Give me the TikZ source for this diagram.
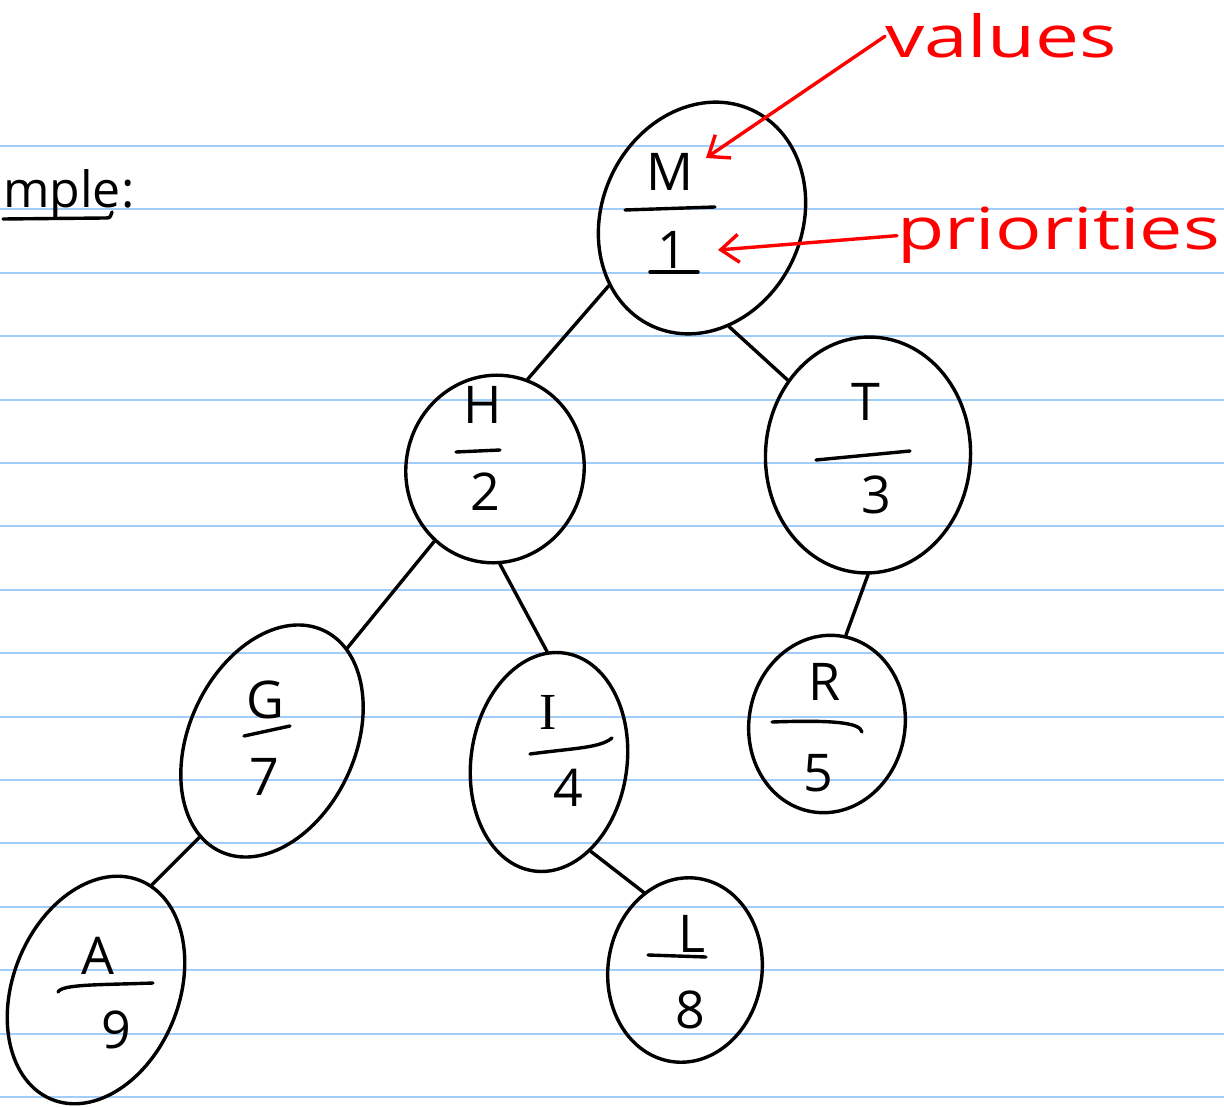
\documentclass[tikz,border=0pt]{standalone}
\usepackage{fontspec}
\setmainfont{Open Sans}
\newfontfamily\serifink{Liberation Serif}
\usetikzlibrary{shapes.geometric,arrows.meta}
\definecolor{ruleblue}{RGB}{160,205,250}
\definecolor{inkred}{RGB}{255,0,0}
\begin{document}
\begin{tikzpicture}[x=1pt,y=-1pt,
  ink/.style={line width=3.4pt, line cap=round, line join=round},
  tnode/.style={ellipse, draw, ink, inner sep=0pt},
  lbl/.style={font=\fontsize{52}{62}\selectfont, inner sep=0pt},
  edge/.style={ink},
  redtxt/.style={text=inkred, font=\fontsize{58}{70}\selectfont, inner sep=0pt},
  redarrow/.style={line width=3.4pt, line cap=round, draw=inkred,
    -{Straight Barb[length=18pt,width=28pt,line width=3.4pt]}}
]
\useasboundingbox[fill=white] (0,0) rectangle (1224,1107);
% ruled paper
\foreach \k in {0,...,15}
  \draw[ruleblue, line width=2pt] (0,{146+63.4*\k}) -- (1224,{146+63.4*\k});

% heading fragment
\node[font=\fontsize{50}{60}\selectfont, inner sep=0pt, anchor=base west] (ex) at (3,208) {mple:};
\draw[ink] (ex.south west |- 0,219) -- (105,218) .. controls (110,218) .. (112,212);

% tree nodes
\node[tnode, minimum width=200pt, minimum height=238pt, rotate=-25] (M) at (702,218) {};
\node[tnode, minimum width=178pt, minimum height=188pt, rotate=-12] (H) at (495,469) {};
\node[tnode, minimum width=205pt, minimum height=236pt, rotate=-3] (T) at (868,455) {};
\node[tnode, minimum width=166pt, minimum height=244pt, rotate=-25] (G) at (272,741) {};
\node[tnode, minimum width=156pt, minimum height=220pt, rotate=-8] (I) at (549,762) {};
\node[tnode, minimum width=156pt, minimum height=178pt, rotate=-10] (R) at (827,724) {};
\node[tnode, minimum width=166pt, minimum height=236pt, rotate=-22] (A) at (96,990) {};
\node[tnode, minimum width=154pt, minimum height=185pt, rotate=-8] (L) at (685,970) {};

% values, fraction bars and priorities
\node[lbl] (Mv) at (670,172) {M};
\draw[ink] (625,210) -- (715,207);
\node[lbl] (Mp) at (672,250) {1};
\draw[ink] (650,272) -- (698,272);

\node[lbl] (Hv) at (483,405) {H};
\draw[ink] (456,452) -- (500,450);
\node[lbl] (Hp) at (485,492) {2};

\node[lbl] (Tv) at (866,402) {T};
\draw[ink] (816,460) -- (910,451);
\node[lbl] (Tp) at (876,495) {3};

\node[lbl] (Gv) at (265,700) {G};
\draw[ink] (244,736) -- (290,726);
\node[lbl] (Gp) at (264,777) {7};

\node[lbl, font=\serifink\fontsize{52}{62}\selectfont] (Iv) at (548,712) {I};
\draw[ink] (530,754) .. controls (575,748) and (600,748) .. (612,738);
\node[lbl] (Ip) at (568,788) {4};

\node[lbl] (Rv) at (825,682) {R};
\draw[ink] (772,722) .. controls (830,720) and (860,722) .. (862,732);
\node[lbl] (Rp) at (818,773) {5};

\node[lbl] (Av) at (98,956) {A};
\draw[ink] (58,992) .. controls (62,984) and (100,985) .. (153,983);
\node[lbl] (Ap) at (116,1030) {9};

\node[lbl] (Lv) at (692,934) {L};
\draw[ink] (648,955) -- (706,957);
\node[lbl] (Lp) at (690,1010) {8};

% tree edges
\draw[edge] (M.241) -- (H.82);
\draw[edge] (M.309) -- (T.140);
\draw[edge] (H.242) -- (G.76);
\draw[edge] (H.285) -- (I.99);
\draw[edge] (T.273) -- (R.88);
\draw[edge] (G.258) -- (A.84);
\draw[edge] (I.303) -- (L.126);

% annotations
\node[redtxt, anchor=base west] (vals) at (885,58) {\scalebox{1.35}[1]{values}};
\node[redtxt, anchor=base west] (prio) at (897,250) {\scalebox{1.33}[1]{priorities}};
\coordinate (valTip) at (706,158);
\coordinate (prioTip) at (718,250);
\draw[redarrow] (vals.west) -- (valTip);
\draw[redarrow] (prio.west) -- (prioTip);
\end{tikzpicture}
\end{document}
